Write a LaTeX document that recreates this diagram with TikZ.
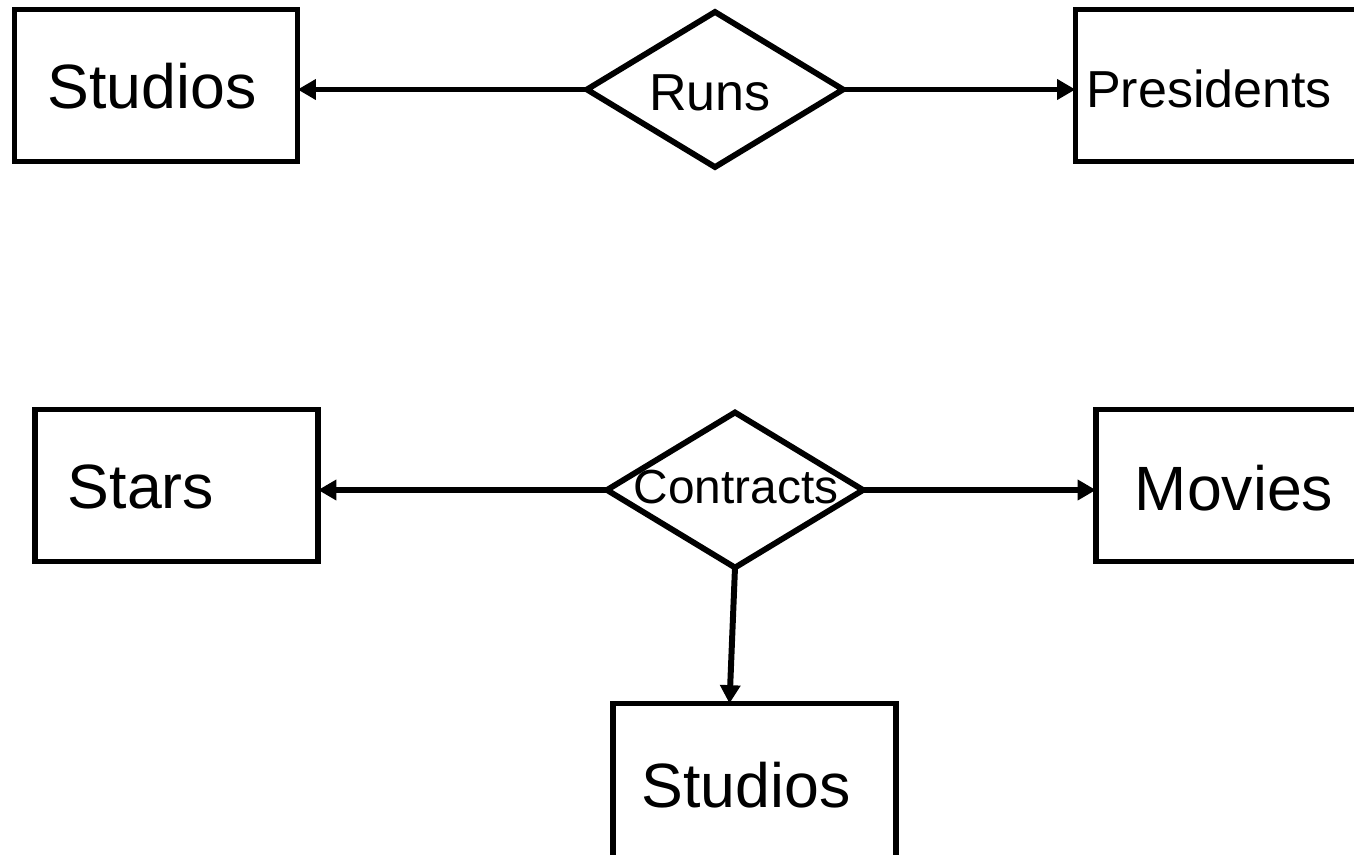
\documentclass[tikz,border=0pt]{standalone}
\usepackage{fontspec}
\setmainfont{Liberation Sans}
\usetikzlibrary{shapes.geometric,arrows.meta}

\tikzset{
  entity/.style={draw, line width=1.65pt, rectangle, inner sep=0pt, outer sep=0pt,
                 minimum width=2.83cm, minimum height=1.52cm},
  relation/.style={draw, line width=1.65pt, diamond, inner sep=0pt, outer sep=0pt,
                   minimum width=2.56cm, minimum height=1.55cm},
  bigtext/.style={inner sep=0pt, anchor=base, font=\fontsize{17.8pt}{20pt}\selectfont},
  midtext/.style={inner sep=0pt, anchor=base, font=\fontsize{14.8pt}{17pt}\selectfont},
  smalltext/.style={inner sep=0pt, anchor=base, font=\fontsize{13.6pt}{16pt}\selectfont},
  link/.style={line width=1.7pt, -{Triangle[length=5.2pt, width=5.6pt]}}
}

\begin{document}
\begin{tikzpicture}[x=0.01cm, y=-0.01cm]
  \useasboundingbox (0,0) rectangle (1354,854);
  \clip (0,0) rectangle (1354,854);

  % Runs: Studios -- Presidents
  \node[entity]   (s1)   at (156,85.5) {};
  \node[entity]   (pres) at (1217,85.5) {};
  \node[relation] (runs) at (715,89.5) {};
  \node[bigtext]   (s1t)   at (152,108) {Studios};
  \node[midtext]   (prest) at (1209,107) {Presidents};
  \node[midtext]   (runst) at (710,110) {Runs};

  \draw[link] (runs.west) -- (s1.east |- runs.west);
  \draw[link] (runs.east) -- (pres.west |- runs.east);

  % Contracts: Stars -- Movies -- Studios
  \node[entity]   (stars)  at (176.5,485.5) {};
  \node[entity]   (movies) at (1237.5,485.5) {};
  \node[entity, minimum height=1.7cm] (s2) at (754.5,788.5) {};
  \node[relation] (contr)  at (735,490) {};
  \node[bigtext]   (starst)  at (141,508) {Stars};
  \node[bigtext]   (moviest) at (1234,510) {Movies};
  \node[bigtext]   (s2t)     at (746,807) {Studios};
  \node[smalltext] (contrt)  at (736,503) {Contracts};

  \draw[link] (contr.west) -- (stars.east |- contr.west);
  \draw[link] (contr.east) -- (movies.west |- contr.east);
  \draw[link] (contr.south) -- ([xshift=-0.25cm]s2.north);
\end{tikzpicture}
\end{document}
